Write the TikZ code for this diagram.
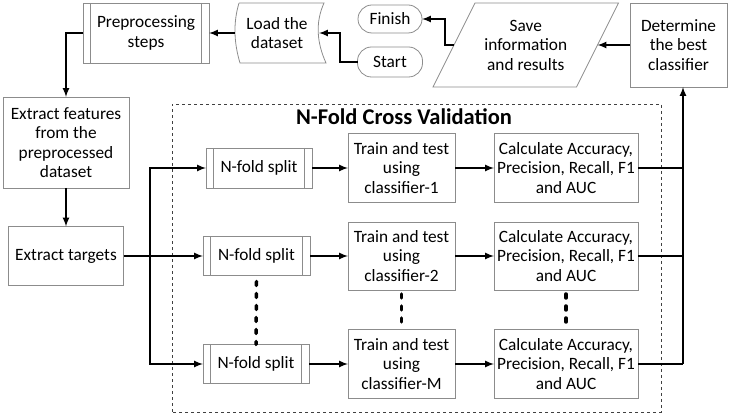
\documentclass[tikz,border=0pt]{standalone}
\usepackage{fontspec}
\setmainfont{Carlito}
\usepackage{tikz}
\usetikzlibrary{calc}

\begin{document}
\begin{tikzpicture}[x=1pt,y=1pt,
	box/.style={draw=black!45,line width=0.8pt,align=center,inner sep=0pt,outer sep=0pt,font=\fontsize{17.3}{19.5}\selectfont},
	proc/.style={box,path picture={\draw[black!45,line width=0.8pt] ([xshift=7.5pt]path picture bounding box.north west) -- ([xshift=7.5pt]path picture bounding box.south west) ([xshift=-7.5pt]path picture bounding box.north east) -- ([xshift=-7.5pt]path picture bounding box.south east);}},
	term/.style={box,rounded corners=14pt},
	flow/.style={-latex,line width=2pt},
	dots/.style={line width=3.5pt,line cap=round,dash pattern=on 4pt off 8pt}]
	\useasboundingbox (0,0) rectangle (731,415);
	% top row
	\node[proc,minimum width=126,minimum height=60] (prep) at (146,382) {Preprocessing\\steps};
	\node[box,draw=none,minimum width=84,minimum height=60] (load) at (277,382) {Load the\\dataset};
	\draw[black!45,line width=0.8pt] ([xshift=4]load.north west) -- ([xshift=5]load.north east) .. controls +(-9,-20) and +(-9,20) .. ([xshift=7]load.south east) -- ([xshift=5]load.south west) .. controls +(-6,20) and +(-6,-20) .. ([xshift=4]load.north west);
	\node[term,minimum width=64,minimum height=28] (finish) at (390,396) {Finish};
	\node[term,minimum width=65,minimum height=30] (start) at (390,353) {Start};
	\node[box,draw=none,minimum width=143.5,minimum height=84] (save) at (525.75,370) {Save\\information\\and results};
	\draw[black!45,line width=0.8pt] ([xshift=21]save.north west) -- ([xshift=21]save.north east) -- ([xshift=-21]save.south east) -- ([xshift=-21]save.south west) -- cycle;
	\node[box,minimum width=97,minimum height=84] (det) at (678.5,370) {Determine\\the best\\classifier};
	% left column
	\node[box,minimum width=126,minimum height=91] (feat) at (66,272.5) {Extract features\\from the\\preprocessed\\dataset};
	\node[box,minimum width=115,minimum height=59] (targ) at (66,159) {Extract targets};
	% cross validation
	\draw[dashed,black!75,line width=0.6pt] (172,3) rectangle (661,311);
	\node[font=\bfseries\fontsize{22.5}{26}\selectfont] (cvtitle) at (404,298) {N-Fold Cross Validation};
	\node[proc,minimum width=106,minimum height=40] (split1) at (259,247) {N-fold split};
	\node[proc,minimum width=107,minimum height=39] (split2) at (256.5,159) {N-fold split};
	\node[proc,minimum width=106,minimum height=39] (split3) at (256,51) {N-fold split};
	\node[box,minimum width=107,minimum height=69] (train1) at (401.5,247) {Train and test\\using\\classifier-1};
	\node[box,minimum width=107,minimum height=68] (train2) at (401.5,159) {Train and test\\using\\classifier-2};
	\node[box,minimum width=107,minimum height=69] (train3) at (401.5,51) {Train and test\\using\\classifier-M};
	\node[box,minimum width=144,minimum height=69] (calc1) at (566,247) {Calculate Accuracy,\\Precision, Recall, F1\\and AUC};
	\node[box,minimum width=144,minimum height=68] (calc2) at (566,159) {Calculate Accuracy,\\Precision, Recall, F1\\and AUC};
	\node[box,minimum width=144,minimum height=69] (calc3) at (566,51) {Calculate Accuracy,\\Precision, Recall, F1\\and AUC};
	\coordinate (bus) at (150,159);
	\coordinate (join) at (683,51);
	% arrows
	\draw[flow] (start.west) -- ++(-18,0) |- (load.east);
	\draw[flow] (load.west) -- (prep.east);
	\draw[flow] (prep.west) -| (feat.north);
	\draw[flow] (feat.south) -- (targ.north);
	\draw[flow] (targ.east) -- (split2.west);
	\draw[flow] (bus) |- (split1.west);
	\draw[flow] (bus) |- (split3.west);
	\foreach \i in {1,2,3}{
		\draw[flow] (split\i.east) -- (train\i.west);
		\draw[flow] (train\i.east) -- (calc\i.west);
		\draw[line width=2pt] (calc\i.east) -- (calc\i.east -| join);
	}
	\draw[flow] (join) -- (join |- det.south);
	\draw[flow] (det.west) -- (save.east);
	\draw[flow] (save.west) -- ++(-9,0) |- (finish.east);
	% dotted links
	\draw[dots] ([yshift=-6]split2.south) -- (split3.north);
	\draw[dots] ([yshift=-4]train2.south) -- (train3.north);
	\draw[dots] ([yshift=-4]calc2.south) -- (calc3.north);
\end{tikzpicture}
\end{document}
